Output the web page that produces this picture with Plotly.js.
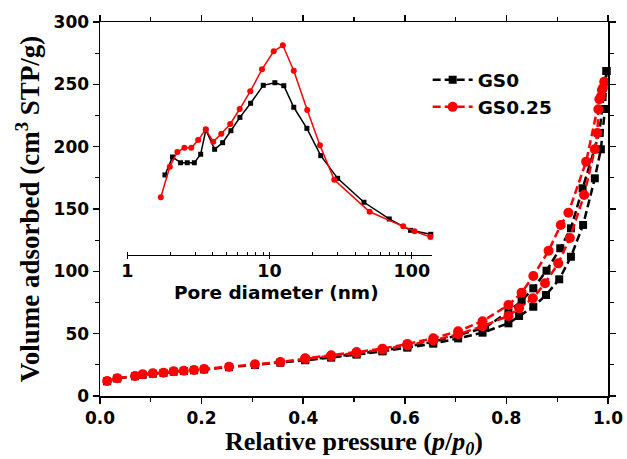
<!DOCTYPE html>
<html><head><meta charset="utf-8">
<script src="https://cdn.plot.ly/plotly-3.0.1.min.js"></script>
<style>html,body{margin:0;padding:0;background:#fff}#c{width:627px;height:459px}</style>
</head><body><div id="c"></div>
<script>
// Isotherm data (relative pressure p/p0, volume adsorbed cm3 STP/g)
var gs0AdsP = [0.014,0.034,0.069,0.084,0.104,0.125,0.145,0.165,0.185,0.205,0.254,0.305,0.355,0.404,0.455,0.505,0.556,0.605,0.656,0.705,0.753,0.804,0.825,0.853,0.878,0.904,0.927,0.951,0.974,0.986,0.994,0.997];
var gs0AdsV = [11.8,14.0,15.8,17.0,17.9,18.5,19.5,20.0,20.6,21.3,23.1,24.9,26.7,28.7,30.8,33.2,35.8,38.8,42.0,46.2,50.8,58.3,64.2,71.6,81.0,93.6,111.7,137.2,174.6,197.9,230.2,260.7];
var gs0DesP = [0.997,0.983,0.950,0.927,0.906,0.879,0.853,0.830,0.804,0.758,0.705,0.656,0.605,0.556,0.505,0.455,0.404];
var gs0DesV = [260.7,211.0,166.6,134.5,118.5,100.5,86.4,76.4,67.6,54.8,48.8,43.5,39.6,36.4,33.7,31.2,29.0];
var gs25AdsP = [0.014,0.034,0.069,0.084,0.104,0.125,0.145,0.165,0.185,0.205,0.254,0.305,0.355,0.404,0.455,0.505,0.556,0.605,0.656,0.705,0.753,0.804,0.825,0.852,0.876,0.902,0.925,0.953,0.974,0.979,0.981,0.986,0.990,0.993];
var gs25AdsV = [12.0,14.2,16.0,17.4,18.2,18.7,19.8,20.3,20.9,21.7,23.5,25.4,27.3,29.8,32.0,34.5,37.2,40.6,44.5,49.5,56.0,64.2,70.3,78.4,90.4,106.4,126.8,161.2,197.9,211.0,230.0,240.0,247.0,252.0];
var gs25DesP = [0.993,0.988,0.983,0.957,0.922,0.907,0.883,0.853,0.830,0.804,0.753,0.705,0.656,0.605,0.556,0.505,0.455,0.404];
var gs25DesV = [252.0,245.5,238.0,188.0,147.0,137.2,116.5,96.3,82.9,73.0,60.0,52.0,46.3,41.8,38.0,35.2,32.6,30.3];

// Inset: pore size distribution (pore diameter nm, arbitrary units)
var psdD0 = [1.84,2.08,2.37,2.64,2.96,3.28,3.57,4.11,4.68,5.35,6.19,7.36,9.03,10.9,12.6,14.8,18.3,22.9,30.1,46.1,69.4,98.0,136];
var psdV0 = [177.3,191.7,187.1,187.1,187.1,193.9,213.4,197.9,203.2,212.8,223.5,234.8,249.2,251.3,248.9,231.6,214.7,192.8,174.6,155.4,142.0,132.9,129.7];
var psdD25 = [1.72,1.99,2.25,2.52,2.82,3.15,3.56,4.02,4.58,5.29,6.17,7.32,8.85,10.7,12.4,14.8,18.4,22.6,28.5,50.5,87.0,104.7,135];
var psdV25 = [159.4,183.9,195.7,199.2,199.2,205.3,213.9,204.0,210.4,218.2,230.2,244.4,262.0,276.5,281.3,260.9,229.4,201.1,173.5,147.8,136.1,132.1,127.5];

var names = ['GS0','GS0.25'];
var colors = ['#000000','#ff0000'];

var dashMain = '8px,4px';
var tr = [];
function iso(x, y, i, sym, show) {
  return {x:x, y:y, type:'scatter', mode:'lines+markers', name:names[i], legendgroup:names[i], showlegend:show,
    line:{color:colors[i], width:2.5, dash:dashMain},
    marker:{color:colors[i], symbol:sym, size: sym==='square'?8:10}, cliponaxis:false};
}
tr.push(iso(gs0AdsP, gs0AdsV, 0, 'square', true));
tr.push(iso(gs0DesP, gs0DesV, 0, 'square', false));
tr.push(iso(gs25AdsP, gs25AdsV, 1, 'circle', true));
tr.push(iso(gs25DesP, gs25DesV, 1, 'circle', false));
tr.push({x:psdD0, y:psdV0, xaxis:'x2', yaxis:'y2', type:'scatter', mode:'lines+markers', showlegend:false,
  line:{color:colors[0], width:1.5}, marker:{color:colors[0], symbol:'square', size:5}, cliponaxis:false});
tr.push({x:psdD25, y:psdV25, xaxis:'x2', yaxis:'y2', type:'scatter', mode:'lines+markers', showlegend:false,
  line:{color:colors[1], width:1.5}, marker:{color:colors[1], symbol:'circle', size:6}, cliponaxis:false});

var sansB = 'DejaVu Sans, Arial, sans-serif';
var tickFont = {family:sansB, size:17, color:'#000', weight:700};
var titleFont = {family:'Liberation Serif, Times New Roman, serif', size:26, color:'#000', weight:700};

var layout = {
  width:627, height:459,
  margin:{l:100, r:19, t:22, b:63},
  paper_bgcolor:'#fff', plot_bgcolor:'rgba(0,0,0,0)',
  showlegend:true,
  legend:{x:0.645, y:0.895, xanchor:'left', yanchor:'top', font:{family:sansB, size:18.5, color:'#000', weight:700},
    bgcolor:'rgba(0,0,0,0)', tracegroupgap:0, itemwidth:40},
  xaxis:{range:[0,1], dtick:0.2, tickformat:'.1f', showgrid:false, zeroline:false,
    showline:true, linecolor:'#000', linewidth:1.5, mirror:'allticks',
    ticks:'outside', ticklen:6, tickwidth:1.5, tickcolor:'#000',
    minor:{dtick:0.1, ticks:'outside', ticklen:4, tickwidth:1.2, tickcolor:'#000'},
    tickfont:tickFont,
    title:{text:'Relative pressure (<i>p</i>/<i>p</i><sub><i>0</i></sub>)', font:titleFont, standoff:3}},
  yaxis:{range:[0,300], dtick:50, showgrid:false, zeroline:false,
    showline:true, linecolor:'#000', linewidth:1.5, mirror:'allticks',
    ticks:'outside', ticklen:6, tickwidth:1.5, tickcolor:'#000',
    minor:{dtick:25, ticks:'outside', ticklen:4, tickwidth:1.2, tickcolor:'#000'},
    tickfont:tickFont,
    title:{text:'Volume adsorbed (cm<sup>3</sup> STP/g)', font:{family:'Liberation Serif, Times New Roman, serif', size:27, color:'#000', weight:700}, standoff:6}},
  xaxis2:{type:'log', range:[0, 2.14], domain:[0.0537, 0.653], anchor:'free', position:0.377,
    dtick:1, showgrid:false, zeroline:false, showline:true, linecolor:'#000', linewidth:1.2,
    ticks:'outside', ticklen:3, tickwidth:1.2, tickcolor:'#000', ticklabelstandoff:-3,
    minor:{ticks:'inside', ticklen:3, tickwidth:1, tickcolor:'#000', dtick:'D1'},
    tickfont:{family:sansB, size:17.5, color:'#000', weight:700}},
  yaxis2:{range:[113.1,300], domain:[0.377,1], anchor:'free', position:0, visible:false},
  annotations:[{text:'Pore diameter (nm)', xref:'paper', yref:'paper', x:0.347, y:0.278, xanchor:'center', yanchor:'middle',
    showarrow:false, font:{family:sansB, size:18.5, color:'#000', weight:700}}]
};

Plotly.newPlot('c', tr, layout, {displayModeBar:false, staticPlot:true});
</script></body></html>
